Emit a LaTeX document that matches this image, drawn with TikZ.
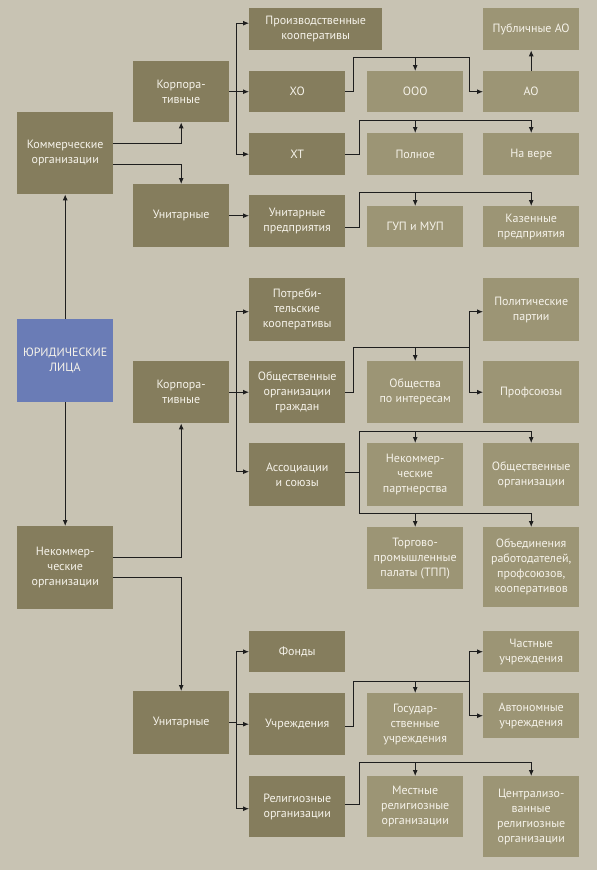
\documentclass[tikz,border=0pt]{standalone}
\usepackage{fontspec}
\setmainfont{PT Sans}
\usetikzlibrary{arrows.meta}
\definecolor{bg}{HTML}{C8C3B3}
\definecolor{boxdark}{HTML}{857D5D}
\definecolor{boxlight}{HTML}{9C9575}
\definecolor{boxblue}{HTML}{6A7CB6}
\definecolor{boxtext}{HTML}{F6F3EA}
\definecolor{line}{HTML}{1E1E1E}
\tikzset{
  dark box/.style={
    fill=boxdark,
    text=boxtext,
    minimum width=96pt,
    minimum height={#1},
    anchor=north west,
    align=center,
    inner sep=1pt,
    font=\fontsize{12}{15}\selectfont,
  },
  light box/.style={
    dark box={#1},
    fill=boxlight,
  },
  blue box/.style={
    dark box={#1},
    fill=boxblue,
  },
  arr/.style={
    draw=line,
    line width=0.9pt,
    -{Latex[length=6pt,width=5pt]},
  },
  bus/.style={
    draw=line,
    line width=0.9pt,
  }
}

\begin{document}
\begin{tikzpicture}[x=1pt,y=-1pt]
        \useasboundingbox[fill=bg] (0,0) rectangle (597,870);

        % first column
        \node [dark box=82] (com) at (17,112) {Коммерческие\\организации};
        \node [blue box=83] (jur) at (17,319) {ЮРИДИЧЕСКИЕ\\ЛИЦА};
        \node [dark box=83] (nek) at (17,526) {Некоммер-\\ческие\\организации};

        % second column
        \node [dark box=61] (korp1) at (133,61) {Корпора-\\тивные};
        \node [dark box=63] (unit1) at (133,184) {Унитарные};
        \node [dark box=62] (korp2) at (133,361) {Корпора-\\тивные};
        \node [dark box=63] (unit2) at (133,691) {Унитарные};

        % third column
        \node [dark box=42, minimum width=133pt] (prk) at (249,8) {Производственные\\кооперативы};
        \node [dark box=41] (ho) at (249,71) {ХО};
        \node [dark box=42] (ht) at (249,133) {ХТ};
        \node [dark box=52] (up) at (249,195) {Унитарные\\предприятия};
        \node [dark box=63] (potr) at (249,278) {Потреби-\\тельские\\кооперативы};
        \node [dark box=62] (oog) at (249,361) {Общественные\\организации\\граждан};
        \node [dark box=63] (as) at (249,443) {Ассоциации\\и союзы};
        \node [dark box=41] (fond) at (249,631) {Фонды};
        \node [dark box=62] (uch) at (249,693) {Учреждения};
        \node [dark box=61] (rel) at (249,776) {Религиозные\\организации};

        % fourth column
        \node [light box=41] (ooo) at (367,71) {ООО};
        \node [light box=42] (poln) at (367,133) {Полное};
        \node [light box=41] (gup) at (367,206) {ГУП и МУП};
        \node [light box=62] (opi) at (367,361) {Общества\\по интересам};
        \node [light box=63] (np) at (367,443) {Некоммер-\\ческие\\партнерства};
        \node [light box=62] (tpp) at (367,527) {Торгово-\\промышленные\\палаты (ТПП)};
        \node [light box=62] (gu) at (367,693) {Государ-\\ственные\\учреждения};
        \node [light box=61] (mro) at (367,776) {Местные\\религиозные\\организации};

        % fifth column
        \node [light box=42] (pao) at (483,8) {Публичные АО};
        \node [light box=41] (ao) at (483,71) {АО};
        \node [light box=42] (nav) at (483,133) {На вере};
        \node [light box=41] (kaz) at (483,206) {Казенные\\предприятия};
        \node [light box=63] (pol) at (483,278) {Политические\\партии};
        \node [light box=62] (prof) at (483,361) {Профсоюзы};
        \node [light box=63] (oo) at (483,443) {Общественные\\организации};
        \node [light box=80] (obr) at (483,527) {Объединения\\работодателей,\\профсоюзов,\\кооперативов};
        \node [light box=41] (chu) at (483,631) {Частные\\учреждения};
        \node [light box=45] (avt) at (483,693) {Автономные\\учреждения};
        \node [light box=81] (cro) at (483,776) {Централизо-\\ванные\\религиозные\\организации};

        % left side
        \draw [arr] (jur.north) -- (com.south);
        \draw [arr] (jur.south) -- (nek.north);
        \draw [arr] ([yshift=10]com.east) -| (korp1.south);
        \draw [arr] ([yshift=-11]com.east) -| (unit1.north);
        \draw [arr] ([yshift=10]nek.east) -| (korp2.south);
        \draw [arr] ([yshift=-10]nek.east) -| (unit2.north);

        % spines of the second column
        \draw [bus] (korp1.east) -- ++(7,0) coordinate (s1);
        \draw [arr] (s1) |- ([yshift=6]prk.west);
        \draw [arr] (s1) |- (ho.west);
        \draw [arr] (s1) |- (ht.west);
        \draw [arr] (unit1.east) -- (unit1.east -| up.west);
        \draw [bus] (korp2.east) -- ++(7,0) coordinate (s2);
        \draw [arr] (s2) |- ([yshift=-2]potr.west);
        \draw [arr] (s2) |- (oog.west);
        \draw [arr] (s2) |- ([yshift=3]as.west);
        \draw [bus] (unit2.east) -- ++(7,0) coordinate (s3);
        \draw [arr] (s3) |- (fond.west);
        \draw [arr] (s3) |- (uch.west);
        \draw [arr] (s3) |- ([yshift=-2]rel.west);

        % ХО
        \coordinate (b1) at ([yshift=14]ooo.north);
        \coordinate (c1) at ([xshift=-14]b1 -| ao.west);
        \draw [bus] (ho.east) -- ++(8,0) |- (c1);
        \draw [arr] (b1) -- (ooo.north);
        \draw [arr] (c1) |- (ao.west);
        \draw [arr] (ao.north) -- (pao.south);

        % ХТ
        \coordinate (b2) at ([yshift=13]nav.north);
        \draw [bus] (ht.east) -- ++(14,0) |- (b2);
        \draw [arr] (b2 -| poln.north) -- (poln.north);
        \draw [arr] (b2) -- (nav.north);

        % Унитарные предприятия
        \coordinate (b3) at ([yshift=14]kaz.north);
        \draw [bus] ([yshift=-6]up.east) -- ++(14,0) |- (b3);
        \draw [arr] (b3 -| gup.north) -- (gup.north);
        \draw [arr] (b3) -- (kaz.north);

        % Общественные организации граждан
        \coordinate (b4) at ([yshift=14]opi.north);
        \coordinate (c4) at ([xshift=-14]b4 -| prof.west);
        \draw [bus] (oog.east) -- ++(8,0) |- (c4);
        \draw [arr] (b4) -- (opi.north);
        \draw [arr] (c4) |- ([yshift=-2]pol.west);
        \draw [arr] (c4) |- (prof.west);

        % Ассоциации и союзы
        \coordinate (b5) at ([yshift=12]oo.north);
        \coordinate (b6) at ([yshift=14]obr.north);
        \draw [bus] ([yshift=2]as.east) -- ++(14,0) coordinate (s5);
        \draw [bus] (s5) |- (b5);
        \draw [bus] (s5) |- (b6);
        \draw [arr] (b5 -| np.north) -- (np.north);
        \draw [arr] (b5) -- (oo.north);
        \draw [arr] (b6 -| tpp.north) -- (tpp.north);
        \draw [arr] (b6) -- (obr.north);

        % Учреждения
        \coordinate (b7) at ([yshift=12]gu.north);
        \coordinate (c7) at ([xshift=-14]b7 -| avt.west);
        \draw [bus] ([yshift=-2]uch.east) -- ++(8,0) |- (c7);
        \draw [arr] (b7) -- (gu.north);
        \draw [arr] (c7) |- (chu.west);
        \draw [arr] (c7) |- (avt.west);

        % Религиозные организации
        \coordinate (b8) at ([yshift=14]cro.north);
        \draw [bus] ([yshift=2]rel.east) -- ++(14,0) |- (b8);
        \draw [arr] (b8 -| mro.north) -- (mro.north);
        \draw [arr] (b8) -- (cro.north);
      \end{tikzpicture}
\end{document}
